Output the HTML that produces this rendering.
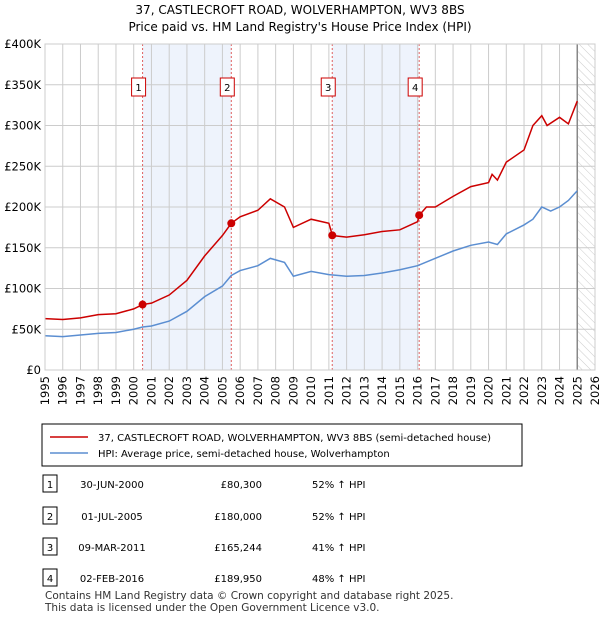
<!DOCTYPE html>
<html><head><meta charset="utf-8"><style>
body{margin:0;background:#fff;font-family:"Liberation Sans","DejaVu Sans",sans-serif;}
svg text{font-family:"DejaVu Sans","Liberation Sans",sans-serif;}
</style></head><body>
<svg id="c" width="600" height="620">
<defs><pattern id="hatch" width="6" height="6" patternUnits="userSpaceOnUse" patternTransform="rotate(-45)"><line x1="0" y1="0" x2="0" y2="6" stroke="#ccc" stroke-width="1"/></pattern></defs>
<text x="300" y="14" text-anchor="middle" font-size="12">37, CASTLECROFT ROAD, WOLVERHAMPTON, WV3 8BS</text>
<text x="300" y="31" text-anchor="middle" font-size="12">Price paid vs. HM Land Registry's House Price Index (HPI)</text>
<g id="plot"></g>
<rect x="42" y="424" width="480" height="42" fill="#fff" stroke="#000"/>
<line x1="50" y1="437" x2="88" y2="437" stroke="#cc0000" stroke-width="1.5"/>
<text x="98" y="441" font-size="10">37, CASTLECROFT ROAD, WOLVERHAMPTON, WV3 8BS (semi-detached house)</text>
<line x1="50" y1="453" x2="88" y2="453" stroke="#5b8ed1" stroke-width="1.5"/>
<text x="98" y="457" font-size="10">HPI: Average price, semi-detached house, Wolverhampton</text>
<g id="tbl" font-size="10"></g>
<text x="45" y="599" font-size="10.5" fill="#333">Contains HM Land Registry data © Crown copyright and database right 2025.</text>
<text x="45" y="611" font-size="10.5" fill="#333">This data is licensed under the Open Government Licence v3.0.</text>
</svg>
<script>
const hpiYears=[1995,1996,1997,1998,1999,2000,2000.5,2001,2002,2003,2004,2005,2005.5,2006,2007,2007.7,2008.5,2009,2010,2011,2012,2013,2014,2015,2016,2017,2018,2019,2020,2020.5,2021,2022,2022.5,2023,2023.5,2024,2024.5,2025];
const hpiValues=[42,41,43,45,46,50,52.8,54,60,72,90,103,116,122,128,137,132,115,121,117,115,116,119,123,128,137,146,153,157,154,167,178,185,200,195,200,208,220];
const redYears=[1995,1996,1997,1998,1999,2000,2000.5,2001,2002,2003,2004,2005,2005.5,2006,2007,2007.7,2008.5,2009,2010,2011,2011.2,2012,2013,2014,2015,2016,2016.1,2016.5,2017,2018,2019,2020,2020.2,2020.5,2021,2022,2022.5,2023,2023.3,2024,2024.5,2025];
const redValues=[63,62,64,68,69,75,80.3,82,92,110,140,165,180,188,196,210,200,175,185,180,165,163,166,170,172,182,190,200,200,213,225,230,240,233,255,270,300,312,300,310,302,330];
const saleLabels=["1","2","3","4"];
const saleYears=[2000.5,2005.5,2011.19,2016.09];
const saleValues=[80.3,180,165.244,189.95];
const saleDates=["30-JUN-2000","01-JUL-2005","09-MAR-2011","02-FEB-2016"];
const salePrices=["£80,300","£180,000","£165,244","£189,950"];
const saleHpi=["52% ↑ HPI","52% ↑ HPI","41% ↑ HPI","48% ↑ HPI"];
const yTicks=[0,50,100,150,200,250,300,350,400];
const yTickLabels=["£0","£50K","£100K","£150K","£200K","£250K","£300K","£350K","£400K"];
const xTicks=[1995,1996,1997,1998,1999,2000,2001,2002,2003,2004,2005,2006,2007,2008,2009,2010,2011,2012,2013,2014,2015,2016,2017,2018,2019,2020,2021,2022,2023,2024,2025,2026];

const NS="http://www.w3.org/2000/svg";
const L=45,R=595,T=44,B=370;
const X=y=>L+(y-1995)/31*(R-L);
const Y=v=>B-v/400*(B-T);
const g=document.getElementById('plot');
function mk(tag,attrs,parent){const e=document.createElementNS(NS,tag);for(const k in attrs)e.setAttribute(k,attrs[k]);(parent||g).appendChild(e);return e;}
// shaded spans
for(let i=0;i<4;i+=2){
 const r=mk('rect',{x:X(saleYears[i]),y:T,width:X(saleYears[i+1])-X(saleYears[i]),height:B-T,fill:'#eef3fc'});
 
 
}
const h=mk('rect',{x:X(2025),y:T,width:R-X(2025),height:B-T,fill:'url(#hatch)'});


yTicks.forEach((v,i)=>{
 const l=mk('line',{x1:L,x2:R,y1:Y(v),y2:Y(v),stroke:'#ccc'});
 
 
 const t=mk('text',{x:L-4,y:Y(v)+4,'text-anchor':'end','font-size':'11.5'});
 t.textContent=yTickLabels[i];
 
 
});
xTicks.forEach(yr=>{
 const l=mk('line',{x1:X(yr),x2:X(yr),y1:T,y2:B,stroke:'#ccc'});
 
 
 const t=mk('text',{x:0,y:0,'text-anchor':'end','font-size':'11.5',transform:`translate(${X(yr)+4},${B+6}) rotate(-90)`});
 t.textContent=yr;
 
 
});
const vl=mk('line',{x1:X(2025),x2:X(2025),y1:T,y2:B,stroke:'#888','stroke-width':1.5});


saleYears.forEach((yr,i)=>{
 const l=mk('line',{x1:X(yr),x2:X(yr),y1:T,y2:B,stroke:'#e06060','stroke-dasharray':'2,2'});
 
 
 const bx=mk('rect',{x:X(yr)-11,y:78,width:14,height:18,fill:'#fff',stroke:'#cc0000'});
 
 
 const t=mk('text',{x:X(yr)-4,y:91,'text-anchor':'middle','font-size':'10'});
 t.textContent=saleLabels[i];
 
 
});
const hp=mk('polyline',{points:hpiYears.map((y,i)=>X(y)+','+Y(hpiValues[i])).join(' '),fill:'none',stroke:'#5b8ed1','stroke-width':1.5});


const rp=mk('polyline',{points:redYears.map((y,i)=>X(y)+','+Y(redValues[i])).join(' '),fill:'none',stroke:'#cc0000','stroke-width':1.5});


saleYears.forEach((yr,i)=>{
 const c=mk('circle',{cx:X(yr),cy:Y(saleValues[i]),r:4,fill:'#cc0000'});
 
 
});
mk('rect',{x:L,y:T,width:R-L,height:B-T,fill:'none',stroke:'#ccc'});
const tb=document.getElementById('tbl');
const rowY=[484,516,547,578];
saleLabels.forEach((lab,i)=>{
 const y=rowY[i];
 const b=mk('rect',{x:43,y:y-9,width:14,height:17,fill:'#fff',stroke:'#000'},tb);
 
 
 const cells=[[50,lab,'middle'],[112,saleDates[i],'middle'],[262,salePrices[i],'end'],[312,saleHpi[i],'start']];
 cells.forEach(([x,s,a])=>{
  const t=mk('text',{x:x,y:y+4,'text-anchor':a},tb);
  t.textContent=s;
  
  
 });
});
</script>
</body></html>
